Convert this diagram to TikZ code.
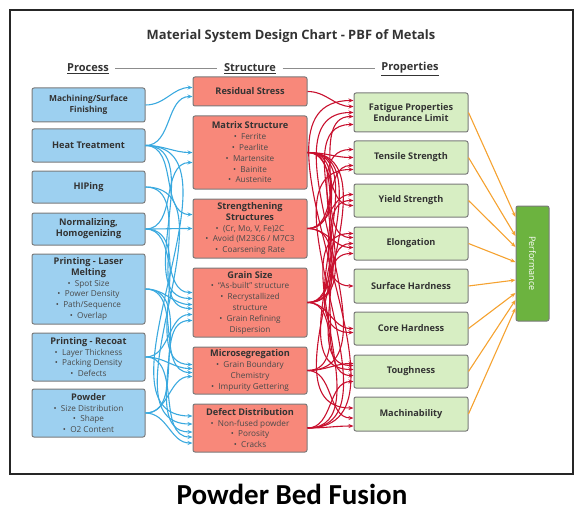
\documentclass[tikz,border=0pt]{standalone}
\usepackage{fontspec}
\setmainfont{Open Sans}
\newfontfamily\pie{Carlito}
\usetikzlibrary{arrows.meta}

\definecolor{procazul}{HTML}{9DD0F0}
\definecolor{estrrojo}{HTML}{F8887A}
\definecolor{propverde}{HTML}{D7EEC3}
\definecolor{perfverde}{HTML}{6CB33F}
\definecolor{flechaazul}{HTML}{3AA9DF}
\definecolor{flecharoja}{HTML}{C8102E}
\definecolor{flechanaranja}{HTML}{F5A230}
\definecolor{bordegris}{HTML}{7A7A7A}
\definecolor{texto}{HTML}{333333}
\definecolor{textoclaro}{HTML}{4A4A4A}

\newcommand{\punto}[1]{{\color{textoclaro}\textbullet\ \ #1}}
\newcommand{\ttl}[1]{{\fontsize{9.2}{11.5}\selectfont\bfseries #1}}
\newcommand{\ttlm}[1]{{\fontsize{8.4}{10.5}\selectfont\bfseries #1}}

\tikzset{
  caja/.style={draw=bordegris, line width=1pt, rounded corners=2pt, align=center,
    inner sep=1pt, text=texto, font=\fontsize{8.2}{10.8}\selectfont},
  proc/.style={caja, fill=procazul, minimum width=113pt},
  estr/.style={caja, fill=estrrojo, minimum width=114pt},
  prop/.style={caja, fill=propverde, minimum width=114pt},
  encabezado/.style={font=\fontsize{11}{13}\selectfont\bfseries, text=texto},
  barrow/.style={flechaazul, line width=1.1pt, -{Stealth[length=5pt,width=4pt]}},
  rarrow/.style={flecharoja, line width=1.1pt, -{Stealth[length=5pt,width=4pt]}},
  oarrow/.style={flechanaranja, line width=1.1pt, -{Stealth[length=5pt,width=4pt]}},
}

\begin{document}
\begin{tikzpicture}[x=1pt,y=-1pt]
  \useasboundingbox (0,0) rectangle (586,516);

  % Marco y titulos
  \draw[line width=1.2pt, black!85] (10,10) rectangle (573,474);
  \node[font=\fontsize{12.9}{15}\selectfont\bfseries, text=texto] (titulo) at (291,36) {Material System Design Chart - PBF of Metals};
  \node[encabezado] (hproc) at (88,69) {\underline{Process}};
  \node[encabezado] (hestr) at (250,69) {\underline{Structure}};
  \node[encabezado] (hprop) at (410,69) {\underline{Properties}};
  \draw[black!45, line width=1pt, shorten <=3pt, shorten >=3pt] (hproc) -- (hestr);
  \draw[black!45, line width=1pt, shorten <=3pt, shorten >=3pt] (hestr) -- (hprop);
  \node[font=\pie\fontsize{29}{33}\selectfont\bfseries] (pie) at (292,494) {Powder Bed Fusion};

  % Procesos
  \node[proc, minimum height=34pt] (mach) at (88.5,105) {\ttlm{Machining/Surface}\\\ttlm{Finishing}};
  \node[proc, minimum height=33pt] (heat) at (88.5,145.5) {\ttl{Heat Treatment}};
  \node[proc, minimum height=32pt] (hip) at (88.5,187) {\ttl{HIPing}};
  \node[proc, minimum height=32pt] (norm) at (88.5,229) {\ttl{Normalizing,}\\\ttl{Homogenizing}};
  \node[proc, minimum height=70pt] (laser) at (88.5,289) {\ttl{Printing - Laser}\\\ttl{Melting}\\\punto{Spot Size}\\\punto{Power Density}\\\punto{Path/Sequence}\\\punto{Overlap}};
  \node[proc, minimum height=48pt] (recoat) at (88.5,357) {\ttl{Printing - Recoat}\\\punto{Layer Thickness}\\\punto{Packing Density}\\\punto{Defects}};
  \node[proc, minimum height=48pt] (powder) at (88.5,413) {\ttl{Powder}\\\punto{Size Distribution}\\\punto{Shape}\\\punto{O2 Content}};

  % Estructuras
  \node[estr, minimum height=29pt] (resid) at (250,91.5) {\ttl{Residual Stress}};
  \node[estr, minimum height=73pt] (matrix) at (250,152.5) {\ttl{Matrix Structure}\\\punto{Ferrite}\\\punto{Pearlite}\\\punto{Martensite}\\\punto{Bainite}\\\punto{Austenite}};
  \node[estr, minimum height=59pt] (streng) at (250,228.5) {\ttl{Strengthening}\\\ttl{Structures}\\\punto{(Cr, Mo, V, Fe)2C}\\\punto{Avoid (M23C6 / M7C3}\\\punto{Coarsening Rate}};
  \node[estr, minimum height=69pt] (grain) at (250,302.5) {\ttl{Grain Size}\\\punto{``As-built'' structure}\\\punto{Recrystallized}\\{\color{textoclaro}structure}\\\punto{Grain Refining}\\{\color{textoclaro}Dispersion}};
  \node[estr, minimum height=47pt] (micro) at (250,370.5) {\ttl{Microsegregation}\\\punto{Grain Boundary}\\{\color{textoclaro}Chemistry}\\\punto{Impurity Gettering}};
  \node[estr, minimum height=48pt] (defect) at (250,428) {\ttl{Defect Distribution}\\\punto{Non-fused powder}\\\punto{Porosity}\\\punto{Cracks}};

  % Propiedades
  \node[prop, minimum height=39pt] (fatigue) at (411,112.5) {\ttl{Fatigue Properties}\\\ttl{Endurance Limit}};
  \node[prop, minimum height=33pt] (tensile) at (411,157.5) {\ttl{Tensile Strength}};
  \node[prop, minimum height=33pt] (yield) at (411,200.5) {\ttl{Yield Strength}};
  \node[prop, minimum height=33pt] (elong) at (411,243.5) {\ttl{Elongation}};
  \node[prop, minimum height=34pt] (surface) at (411,286) {\ttl{Surface Hardness}};
  \node[prop, minimum height=33pt] (core) at (411,328.5) {\ttl{Core Hardness}};
  \node[prop, minimum height=33pt] (tough) at (411,371.5) {\ttl{Toughness}};
  \node[prop, minimum height=34pt] (machin) at (411,414) {\ttl{Machinability}};

  % Desempeno
  \node[draw=bordegris, line width=1pt, rounded corners=2pt, fill=perfverde, minimum width=115pt,
    minimum height=33pt, rotate=-90, text=white, font=\fontsize{9}{11}\selectfont] (perf) at (532.5,263.5) {Performance};

  % Flechas azules: proceso -> estructura
  \foreach \a/\b/\d in {mach/resid/4, heat/resid/-5, heat/matrix/0, heat/streng/14, heat/grain/4, heat/defect/12,
      hip/grain/-6, hip/defect/4, norm/matrix/-10, norm/streng/0, norm/grain/10, norm/micro/6,
      laser/grain/-2, laser/micro/-2, laser/defect/-4,
      recoat/micro/2, recoat/defect/-9, recoat/grain/-12,
      powder/micro/-6, powder/defect/-15, powder/grain/-18}
    \draw[barrow] (\a.east) to[out=0, in=180] ([yshift=\d pt]\b.west);

  % Flechas rojas: estructura -> propiedades
  \foreach \a/\b/\d in {resid/fatigue/6,
      matrix/tensile/0, matrix/yield/-5, matrix/elong/6, matrix/surface/0, matrix/core/-4, matrix/tough/2, matrix/machin/6,
      streng/fatigue/-4, streng/tensile/-8, streng/yield/6, streng/elong/-4, streng/tough/6,
      grain/fatigue/-12, grain/tensile/8, grain/yield/0, grain/elong/0, grain/core/0, grain/tough/-4,
      micro/tough/8, micro/elong/-10, micro/machin/-4, micro/fatigue/0,
      defect/fatigue/12, defect/tensile/-12, defect/elong/10, defect/tough/-10, defect/machin/-12}
    \draw[rarrow] (\a.east) to[out=0, in=180] ([yshift=\d pt]\b.west);

  % Flechas naranjas: propiedades -> desempeno
  \foreach \a/\d in {fatigue/46.5, tensile/27.5, yield/16.5, elong/1.5, surface/-16.5, core/-29.5, tough/-36.5, machin/-44.5}
    \draw[oarrow] (\a.east) -- ([yshift=\d pt]perf.south);
\end{tikzpicture}
\end{document}
